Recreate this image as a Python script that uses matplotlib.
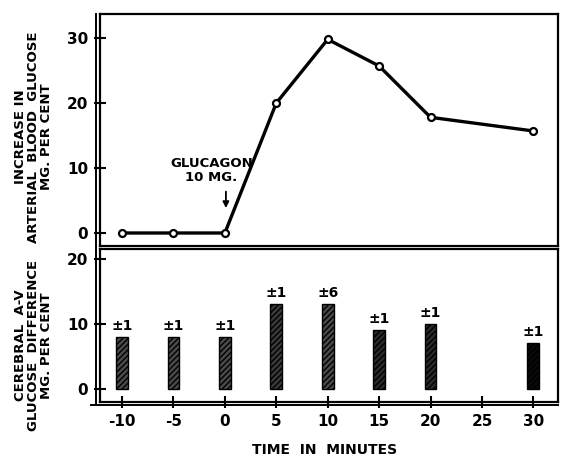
import numpy as np
import matplotlib.pyplot as plt
from matplotlib.lines import Line2D

plt.rcParams['font.family'] = ['DejaVu Sans']
plt.rcParams['font.weight'] = 'bold'
plt.rcParams['axes.unicode_minus'] = False

# time points (minutes) and rise in arterial blood glucose
t_glu = [-10, -5, 0, 5, 10, 15, 20, 30]
glu_rise = [0, 0, 0, 20, 29.8, 25.7, 17.8, 15.7]

# cerebral A-V glucose difference
t_av = [-10, -5, 0, 5, 10, 15, 20, 30]
av_diff = [8, 8, 8, 13, 13, 9, 10, 7]
av_err = ['±1', '±1', '±1', '±1', '±6', '±1', '±1', '±1']
av_shade = ['#4a4a4a', '#4a4a4a', '#4a4a4a', '#3a3a3a', '#4a4a4a', '#2a2a2a', '#2a2a2a', '#0a0a0a']

xticks = [-10, -5, 0, 5, 10, 15, 20, 25, 30]

fig = plt.figure(figsize=(5.62, 4.58), dpi=100)
ax1 = fig.add_axes([0.178, 0.4629, 0.815, 0.5065])
ax2 = fig.add_axes([0.178, 0.1223, 0.815, 0.334])

for ax in (ax1, ax2):
    ax.set_xlim(-12.14, 32.4)
    for s in ax.spines.values():
        s.set_linewidth(1.6)
    ax.tick_params(axis='both', direction='inout', length=9, width=1.5,
                   labelsize=11, pad=4)

# upper panel: glucose curve
ax1.plot(t_glu, glu_rise, color='black', lw=2.4, marker='o', ms=5,
         mfc='white', mec='black', mew=1.6)
ax1.set_ylim(-2, 33.7)
ax1.set_yticks([0, 10, 20, 30])
ax1.set_xticks([])
ax1.set_ylabel('INCREASE IN\nARTERIAL  BLOOD  GLUCOSE\nMG. PER CENT',
               fontsize=9.5, fontweight='bold', linespacing=1.0)
ax1.yaxis.set_label_coords(-0.103, 0.47)
ax1.text(-1.3, 7.5, 'GLUCAGON\n10 MG.', ha='center', va='bottom',
         fontsize=9.5, fontweight='bold', linespacing=1.15)
ax1.annotate('', xy=(0.1, 3.4), xytext=(0.1, 6.8),
             arrowprops=dict(arrowstyle='-|>', color='black', lw=1.3,
                             mutation_scale=9))

# lower panel: A-V difference bars
ax2.bar(t_av, av_diff, width=1.15, color=av_shade, edgecolor='black',
        hatch='//////', linewidth=1.0)
for x, y, e in zip(t_av, av_diff, av_err):
    ax2.text(x, y + 0.6, e, ha='center', va='bottom', fontsize=10,
             fontweight='bold')
ax2.set_ylim(-2, 21.5)
ax2.set_yticks([0, 10, 20])
ax2.set_xticks(xticks)
ax2.set_ylabel('CEREBRAL  A-V\nGLUCOSE  DIFFERENCE\nMG. PER CENT',
               fontsize=9.5, fontweight='bold', linespacing=1.0)
ax2.yaxis.set_label_coords(-0.103, 0.37)
ax2.set_xlabel('TIME  IN  MINUTES', fontsize=10, fontweight='bold')
ax2.xaxis.set_label_coords(0.49, -0.27)

# outer frame lines along the left and bottom edges
fig.add_artist(Line2D([0.171, 0.171], [0.118, 0.97], color='black', lw=1.4))
fig.add_artist(Line2D([0.162, 0.993], [0.116, 0.116], color='black', lw=1.4))

fig.savefig('out.png', dpi=100)
